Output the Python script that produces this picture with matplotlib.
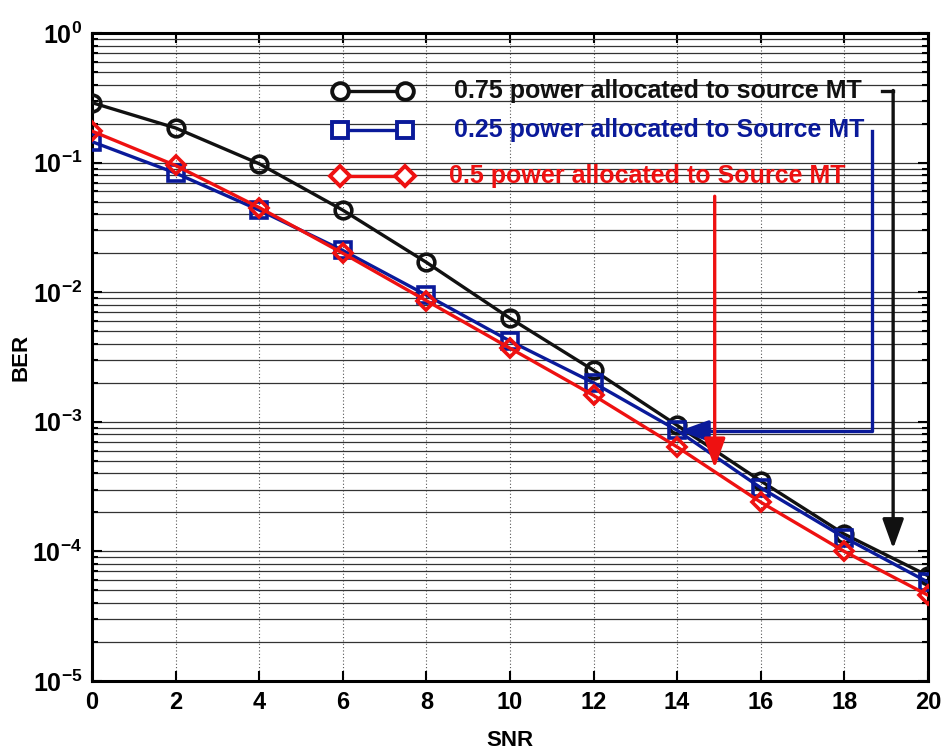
import matplotlib
matplotlib.use("Agg")
import matplotlib.pyplot as plt
import numpy as np

plt.rcParams['font.family'] = ['Liberation Sans', 'DejaVu Sans']
plt.rcParams['mathtext.fontset'] = 'custom'
plt.rcParams['mathtext.rm'] = 'Liberation Sans:bold'
plt.rcParams['mathtext.it'] = 'Liberation Sans:bold'
plt.rcParams['mathtext.bf'] = 'Liberation Sans:bold'

snr = [0, 2, 4, 6, 8, 10, 12, 14, 16, 18, 20]
ber_075 = [0.29, 0.185, 0.098, 0.043, 0.0170, 0.0063, 0.0025, 9.4e-4, 3.5e-4, 1.36e-4, 6.5e-5]
ber_025 = [0.145, 0.083, 0.043, 0.021, 0.0095, 0.0042, 0.0020, 8.6e-4, 3.1e-4, 1.28e-4, 5.8e-5]
ber_050 = [0.175, 0.095, 0.045, 0.020, 0.0086, 0.0037, 0.0016, 6.4e-4, 2.4e-4, 1.0e-4, 4.6e-5]

labels = ["0.75 power allocated to source MT",
          "0.25 power allocated to Source MT",
          "0.5 power allocated to Source MT"]
colors = ["#111111", "#0a1a9a", "#ee1111"]
markers = ["o", "s", "D"]
x_ticks = [0, 2, 4, 6, 8, 10, 12, 14, 16, 18, 20]

fig = plt.figure(figsize=(9.41, 7.5), dpi=100)
ax = fig.add_axes([0.0978, 0.092, 0.8882, 0.864])

series = [ber_075, ber_025, ber_050]
for ys, c, m in zip(series, colors, markers):
    ax.semilogy(snr, ys, color=c, lw=2.4, marker=m, ms=12 if m == "o" else (11 if m == "s" else 9),
                mfc="none", mec=c, mew=2.6, zorder=3)

ax.set_xlim(0, 20)
ax.set_ylim(1e-5, 1e0)
ax.set_xticks(x_ticks)
ax.set_xticklabels([str(t) for t in x_ticks], fontsize=17, fontweight="bold")
ax.set_yticks([1e-5, 1e-4, 1e-3, 1e-2, 1e-1, 1e0])
ax.set_yticklabels([r"$10^{-5}$", r"$10^{-4}$", r"$10^{-3}$", r"$10^{-2}$",
                    r"$10^{-1}$", r"$10^{0}$"], fontsize=18)
ax.tick_params(which="both", direction="in", top=True, right=True, width=1.5)
ax.tick_params(which="major", length=7, pad=7)
ax.tick_params(which="minor", length=4)
ax.minorticks_on()
ax.xaxis.set_minor_locator(matplotlib.ticker.NullLocator())

# grid: solid horizontal lines on every decade subdivision, dotted verticals
ax.yaxis.grid(True, which="both", color="#333333", lw=0.9, ls="-", zorder=0)
ax.xaxis.grid(True, which="major", color="#555555", lw=0.8, ls=(0, (1, 2)), zorder=0)

for s in ax.spines.values():
    s.set_linewidth(2.2)

ax.set_xlabel("SNR", fontsize=16, fontweight="bold", labelpad=12)
ax.set_ylabel("BER", fontsize=16, fontweight="bold", labelpad=1)

# in-axes key: sample line with end markers, followed by the label text
key_x = (5.93, 7.49)
key_y = [0.36, 0.178, 0.079]
text_x = [8.65, 8.65, 8.55]
for ky, tx, lab, c, m in zip(key_y, text_x, labels, colors, markers):
    ax.plot(key_x, [ky, ky], color=c, lw=2.4, marker=m,
            ms=12 if m != "D" else 10, mfc="white", mec=c, mew=2.8, zorder=4)
    ax.text(tx, ky, lab, color=c, fontsize=18, fontweight="bold",
            va="center", ha="left", zorder=4)

# arrows from each label to its curve
arrow_kw = dict(arrowstyle="-|>,head_length=1.8,head_width=0.65", lw=2.4,
                shrinkA=0, shrinkB=0)
# black: short hook right, then straight down
ax.plot([18.9, 19.17], [0.36, 0.36], color=colors[0], lw=2.4, zorder=4)
ax.annotate("", xy=(19.17, 1.05e-4), xytext=(19.17, 0.36),
            arrowprops=dict(color=colors[0], **arrow_kw), zorder=4)
# blue: down, then left to the curve
ax.plot([18.66, 18.66, 14.6], [0.175, 8.5e-4, 8.5e-4], color=colors[1], lw=2.4, zorder=4)
ax.annotate("", xy=(14.05, 8.5e-4), xytext=(14.8, 8.5e-4),
            arrowprops=dict(color=colors[1], **arrow_kw), zorder=4)
# red: straight down
ax.annotate("", xy=(14.9, 4.4e-4), xytext=(14.9, 0.055),
            arrowprops=dict(color=colors[2], **arrow_kw), zorder=4)

fig.savefig("out.png", dpi=100, facecolor="white")
